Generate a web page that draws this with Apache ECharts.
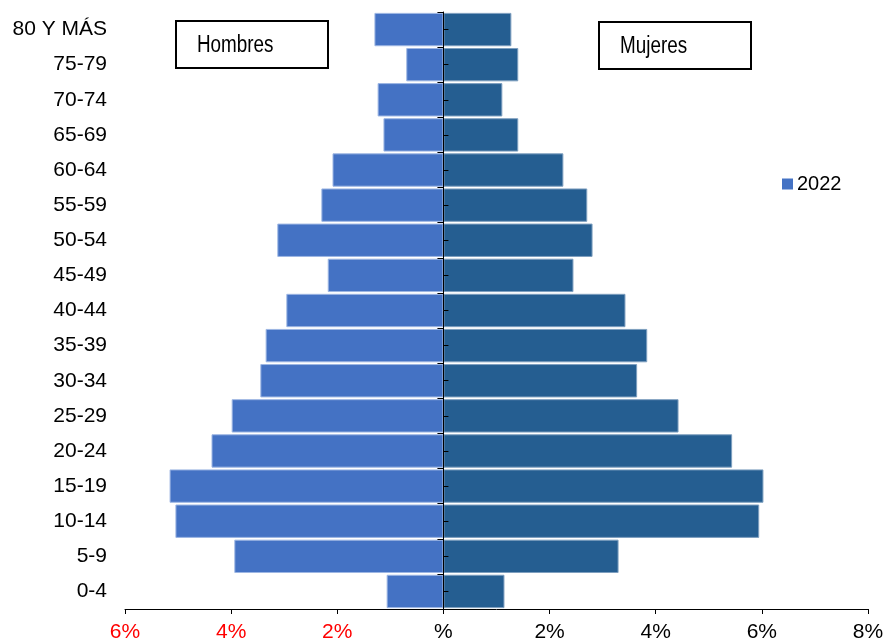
<!DOCTYPE html>
<html>
<head>
<meta charset="utf-8">
<style>
  html, body { margin: 0; padding: 0; background: #fff; }
  #chart { width: 887px; height: 644px; }
</style>
<script src="https://cdn.jsdelivr.net/npm/echarts@6/dist/echarts.min.js"></script>
</head>
<body>
<div id="chart"></div>
<script>
// Age groups, bottom to top
const ageGroups = ['0-4', '5-9', '10-14', '15-19', '20-24', '25-29', '30-34', '35-39',
  '40-44', '45-49', '50-54', '55-59', '60-64', '65-69', '70-74', '75-79', '80 Y MÁS'];

// Share of population (%), 2022
const hombres = [1.07, 3.94, 5.05, 5.16, 4.37, 3.99, 3.45, 3.35,
  2.96, 2.18, 3.13, 2.30, 2.09, 1.13, 1.24, 0.70, 1.30];
const mujeres = [1.15, 3.30, 5.95, 6.03, 5.44, 4.43, 3.65, 3.84,
  3.43, 2.45, 2.81, 2.71, 2.26, 1.41, 1.11, 1.41, 1.28];

// Percent axis ticks
const xTicks = { min: -6, max: 8, step: 2 };

const regular = "'Liberation Sans', Arial, sans-serif";

const W = 887;
const plot = { left: 125, right: 19, top: 12, bottom: 35 };
// Pixel position of 0% inside the plot, where the central axis sits
const plotWidth = W - plot.left - plot.right;
const zeroX = plot.left + (0 - xTicks.min) / (xTicks.max - xTicks.min) * plotWidth;

const chart = echarts.init(document.getElementById('chart'));

chart.setOption({
  animation: false,
  backgroundColor: '#ffffff',
  grid: [
    { left: plot.left, right: plot.right, top: plot.top, bottom: plot.bottom,
      containLabel: false, outerBoundsMode: 'none' },
    // helper grid whose left edge is the 0% line, used only for the central axis
    { left: zeroX, right: plot.right, top: plot.top, bottom: plot.bottom,
      containLabel: false, outerBoundsMode: 'none' }
  ],
  legend: {
    data: ['2022'],
    left: 782,
    top: 174,
    padding: 0,
    icon: 'rect',
    itemWidth: 11,
    itemHeight: 11,
    itemGap: 6,
    itemStyle: { borderWidth: 0 },
    textStyle: { fontFamily: regular, fontSize: 20, color: '#000', padding: [0, 0, 0, -1] }
  },
  xAxis: [
    {
      type: 'value',
      gridIndex: 0,
      min: xTicks.min,
      max: xTicks.max,
      interval: xTicks.step,
      splitLine: { show: false },
      axisLine: { show: true, onZero: false, lineStyle: { color: '#000', width: 1 } },
      axisTick: { show: true, length: 5, lineStyle: { color: '#000' } },
      axisLabel: {
        margin: 13,
        fontFamily: regular,
        fontSize: 21,
        color: function (v) { return v < 0 ? '#ff0000' : '#000000'; },
        formatter: function (v) { return v === 0 ? '%' : Math.abs(v) + '%'; }
      }
    },
    {
      type: 'value',
      gridIndex: 1,
      show: false
    }
  ],
  yAxis: [
    {
      type: 'category',
      gridIndex: 0,
      position: 'left',
      data: ageGroups,
      axisLine: { show: false },
      axisTick: { show: false },
      axisLabel: {
        margin: 18,
        fontFamily: regular,
        fontSize: 21,
        color: '#000'
      }
    },
    {
      // central axis line with boundary ticks pointing left
      type: 'category',
      gridIndex: 1,
      position: 'left',
      data: ageGroups,
      axisLine: { show: true, onZero: false, lineStyle: { color: '#000', width: 1 } },
      axisTick: { show: true, length: 6, alignWithLabel: false, lineStyle: { color: '#000' } },
      axisLabel: { show: false },
      z: 5
    },
    {
      // short ticks at category centres pointing right
      type: 'category',
      gridIndex: 1,
      position: 'left',
      offset: 0,
      data: ageGroups,
      axisLine: { show: false, onZero: false },
      axisTick: { show: true, inside: true, length: 5, alignWithLabel: true, lineStyle: { color: '#000' } },
      axisLabel: { show: false },
      z: 5
    }
  ],
  series: [
    {
      name: '2022',
      type: 'bar',
      stack: 'pyr',
      xAxisIndex: 0,
      yAxisIndex: 0,
      barCategoryGap: '5%',
      data: hombres.map(v => -v),
      itemStyle: { color: '#4472C4', borderColor: '#9DB6E3', borderWidth: 1 },
      z: 1
    },
    {
      name: 'Mujeres 2022',
      type: 'bar',
      stack: 'pyr',
      xAxisIndex: 0,
      yAxisIndex: 0,
      barCategoryGap: '5%',
      data: mujeres,
      itemStyle: { color: '#255E91', borderColor: '#7E9FBF', borderWidth: 1 },
      z: 1
    }
  ],
  graphic: [
    {
      type: 'group',
      left: 175,
      top: 20,
      children: [
        { type: 'rect', shape: { x: 0, y: 0, width: 152, height: 47 },
          style: { fill: '#fff', stroke: '#000', lineWidth: 2 } },
        { type: 'text', x: 21, y: 25, scaleX: 0.82,
          style: { text: 'Hombres', fontFamily: regular, fontSize: 23, fill: '#000', verticalAlign: 'middle' } }
      ]
    },
    {
      type: 'group',
      left: 598,
      top: 21,
      children: [
        { type: 'rect', shape: { x: 0, y: 0, width: 152, height: 47 },
          style: { fill: '#fff', stroke: '#000', lineWidth: 2 } },
        { type: 'text', x: 21, y: 25, scaleX: 0.82,
          style: { text: 'Mujeres', fontFamily: regular, fontSize: 23, fill: '#000', verticalAlign: 'middle' } }
      ]
    }
  ]
});
</script>
</body>
</html>
